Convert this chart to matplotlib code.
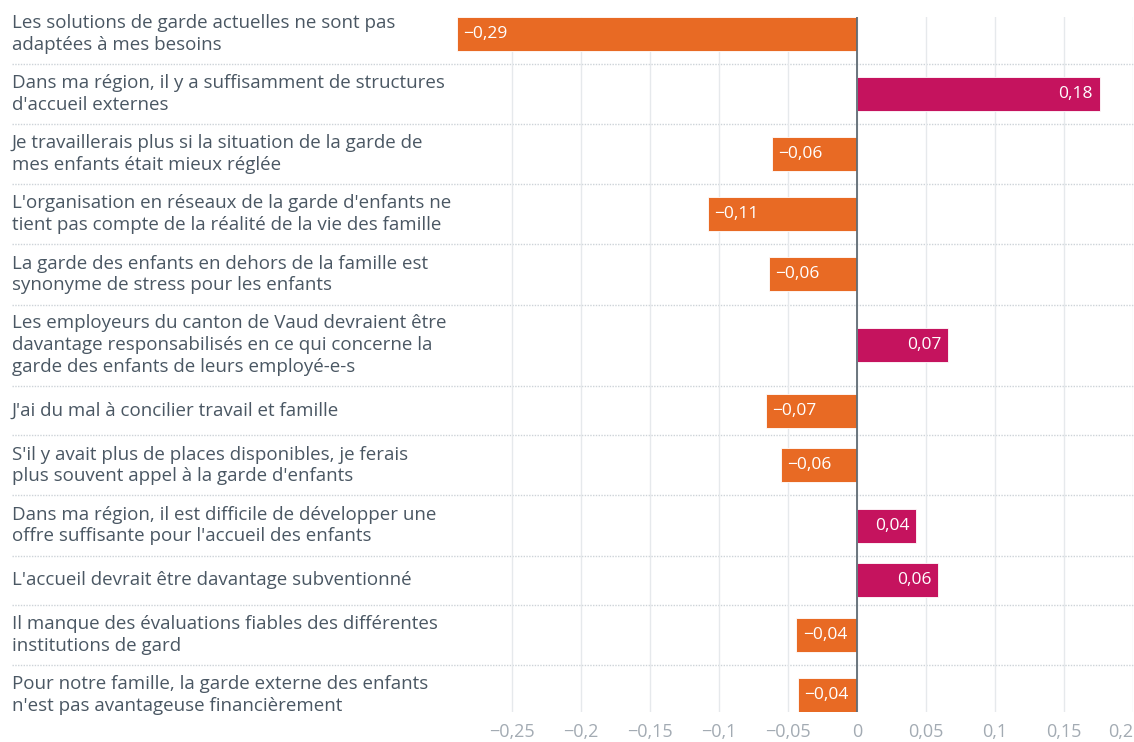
import matplotlib.pyplot as plt
from matplotlib.transforms import blended_transform_factory
import numpy as np

plt.rcParams['font.family'] = ['Open Sans', 'DejaVu Sans']

# Statements (already wrapped as displayed) and their scores
labels = [
    "Les solutions de garde actuelles ne sont pas\nadaptées à mes besoins",
    "Dans ma région, il y a suffisamment de structures\nd'accueil externes",
    "Je travaillerais plus si la situation de la garde de\nmes enfants était mieux réglée",
    "L'organisation en réseaux de la garde d'enfants ne\ntient pas compte de la réalité de la vie des famille",
    "La garde des enfants en dehors de la famille est\nsynonyme de stress pour les enfants",
    "Les employeurs du canton de Vaud devraient être\ndavantage responsabilisés en ce qui concerne la\ngarde des enfants de leurs employé-e-s",
    "J'ai du mal à concilier travail et famille",
    "S'il y avait plus de places disponibles, je ferais\nplus souvent appel à la garde d'enfants",
    "Dans ma région, il est difficile de développer une\noffre suffisante pour l'accueil des enfants",
    "L'accueil devrait être davantage subventionné",
    "Il manque des évaluations fiables des différentes\ninstitutions de gard",
    "Pour notre famille, la garde externe des enfants\nn'est pas avantageuse financièrement",
]
scores = [-0.29, 0.176, -0.062, -0.108, -0.064, 0.066,
          -0.066, -0.055, 0.043, 0.059, -0.044, -0.043]
x_ticks = [-0.25, -0.2, -0.15, -0.1, -0.05, 0, 0.05, 0.1, 0.15, 0.2]

NEG_COLOR = '#E86A24'
POS_COLOR = '#C5135E'
TEXT_COLOR = '#4A5763'
TICK_COLOR = '#A3ABB3'

W, H = 1134, 742
LINE_H = 21.3      # px per label line
ROW_PAD = 17.5     # px of padding per row
BAR_H = 34         # px
TOP = 4            # px above first row


def fmt(v):
    s = f"{v:.2f}".rstrip('0').rstrip('.') if v != 0 else "0"
    return s.replace('-', '\u2212').replace('.', ',')


# row heights follow the number of label lines (min 1.5 lines)
n_lines = np.array([lab.count('\n') + 1 for lab in labels])
row_h = np.maximum(n_lines, 1.5) * LINE_H + ROW_PAD
row_top = TOP + np.concatenate([[0], np.cumsum(row_h)[:-1]])
centers = row_top + row_h / 2

# plot area runs from the first bar's top to the last bar's bottom
y_top = centers[0] - BAR_H / 2
y_bottom = centers[-1] + BAR_H / 2
x_min, x_max = min(scores), max(x_ticks)

fig = plt.figure(figsize=(W / 100, H / 100), dpi=100)
ax_left = 457 / W
ax = fig.add_axes([ax_left, 1 - y_bottom / H, 1 - ax_left - 1 / W,
                   (y_bottom - y_top) / H])
ax.set_xlim(x_min, x_max)
ax.set_ylim(y_bottom, y_top)

colors = [NEG_COLOR if v < 0 else POS_COLOR for v in scores]
ax.barh(centers, scores, height=BAR_H, color=colors, edgecolor='white',
        linewidth=0.6, zorder=3)

for c, v in zip(centers, scores):
    if v < 0:
        ax.annotate(fmt(v), (v, c), xytext=(4.5, 0), textcoords='offset points',
                    ha='left', va='center', color='white', fontsize=12.5, zorder=4)
    else:
        ax.annotate(fmt(v), (v, c), xytext=(-5, 0), textcoords='offset points',
                    ha='right', va='center', color='white', fontsize=12.5, zorder=4)

# statement labels on the left, separators spanning the full width
trans = blended_transform_factory(fig.transFigure, ax.transData)
for c, lab in zip(centers, labels):
    ax.text(12 / W, c, lab, transform=trans, ha='left', va='center',
            color=TEXT_COLOR, fontsize=13.5, linespacing=1.27, clip_on=False)
for y in row_top[1:]:
    ax.plot([12 / W, 1], [y, y], transform=trans, color='#CDD3D8', lw=1,
            ls=(0, (1, 1)), clip_on=False, zorder=1)

ax.axvline(0, color='#5F6B74', lw=1.3, zorder=5)
ax.set_xticks(x_ticks)
ax.set_xticklabels([fmt(t) for t in x_ticks])
ax.tick_params(axis='x', length=0, colors=TICK_COLOR, labelsize=13, pad=8)
ax.get_xticklabels()[-1].set_horizontalalignment('right')
ax.set_yticks([])
ax.grid(axis='x', color='#E6E9EC', lw=1, zorder=0)
for s in ax.spines.values():
    s.set_visible(False)

fig.savefig('out.png', dpi=100)
